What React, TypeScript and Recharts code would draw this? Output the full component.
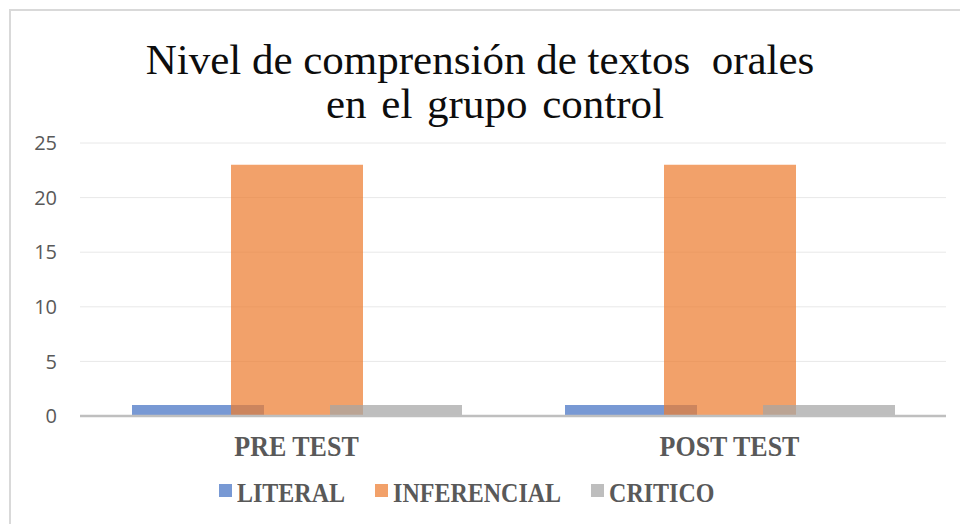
import React from "react";
import { BarChart, Bar, XAxis, YAxis, CartesianGrid, Legend } from "recharts";

const categories = ["PRE TEST", "POST TEST"];
const literal = [1, 1];
const inferencial = [23, 23];
const critico = [1, 1];
const yTicks = [0, 5, 10, 15, 20, 25];

const seriesInfo = [
  { key: "literal", name: "LITERAL", color: "#4472C4" },
  { key: "inferencial", name: "INFERENCIAL", color: "#ED7D31" },
  { key: "critico", name: "CRITICO", color: "#A5A5A5" },
];

const data = categories.map((c, i) => ({
  cat: c,
  literal: literal[i],
  inferencial: inferencial[i],
  critico: critico[i],
}));

const serif = "'Liberation Serif', 'Times New Roman', serif";
const sans = "'Open Sans', 'Noto Sans', sans-serif";
const OPACITY = 0.72;

function CatTick(props: any) {
  const { x, y, payload } = props;
  const by = y + 32;
  return (
    <text
      x={x}
      y={by}
      textAnchor="middle"
      fontFamily={serif}
      fontWeight="bold"
      fontSize={26}
      fill="#595959"
      transform={`translate(0 ${-by * 0.12}) scale(1 1.12)`}
    >
      {payload.value}
    </text>
  );
}

function LegendContent() {
  return (
    <div style={{ display: "flex", alignItems: "center" }}>
      {seriesInfo.map((s, i) => (
        <div
          key={s.key}
          style={{ display: "flex", alignItems: "center", marginRight: i < 2 ? 30 : 0 }}
        >
          <span
            style={{
              display: "inline-block",
              width: 13,
              height: 13,
              background: s.color,
              opacity: OPACITY,
              marginRight: 5,
              marginTop: -6,
            }}
          />
          <span
            style={{
              display: "inline-block",
              fontFamily: serif,
              fontWeight: "bold",
              fontSize: 24,
              color: "#595959",
              lineHeight: "28px",
              transform: "scaleY(1.15)",
            }}
          >
            {s.name}
          </span>
        </div>
      ))}
    </div>
  );
}

export default function App() {
  return (
    <div style={{ position: "absolute", left: 0, top: 0, width: 960, height: 524, background: "#fff", overflow: "hidden" }}>
      <div
        style={{
          position: "absolute",
          left: 9,
          top: 9,
          width: 960,
          height: 524,
          borderLeft: "2px solid #D9D9D9",
          borderTop: "2px solid #D9D9D9",
        }}
      />
      <div
        style={{
          position: "absolute",
          left: 0,
          top: 38,
          width: 960,
          textAlign: "center",
          fontFamily: serif,
          fontSize: 43,
          color: "#0d0d0d",
          whiteSpace: "pre",
          lineHeight: "44px",
        }}
      >
        {"Nivel de comprensión de textos  orales"}
      </div>
      <div
        style={{
          position: "absolute",
          left: 15,
          top: 82,
          width: 960,
          textAlign: "center",
          fontFamily: serif,
          fontSize: 43,
          color: "#0d0d0d",
          wordSpacing: 4,
          lineHeight: "44px",
        }}
      >
        en el grupo control
      </div>
      <div style={{ position: "absolute", left: 0, top: 0 }}>
        <BarChart
          width={960}
          height={524}
          data={data}
          margin={{ top: 143, right: 14, bottom: 0, left: 0 }}
          barSize={132}
          barGap={-33}
        >
          <CartesianGrid vertical={false} stroke="#E8E8E8" strokeWidth={1} />
          <XAxis
            dataKey="cat"
            axisLine={{ stroke: "#BFBFBF", strokeWidth: 2.5 }}
            tickLine={false}
            tick={<CatTick />}
            height={60}
            interval={0}
          />
          <YAxis
            domain={[0, 25]}
            ticks={yTicks}
            width={80}
            axisLine={false}
            tickLine={false}
            tickSize={0}
            tickMargin={23}
            tick={{ fontFamily: sans, fontSize: 20, fill: "#595959" }}
          />
          <Legend
            verticalAlign="bottom"
            height={48}
            content={<LegendContent />}
            wrapperStyle={{ left: 219, top: 479, width: "auto" }}
          />
          {seriesInfo.map((s) => (
            <Bar
              key={s.key}
              dataKey={s.key}
              name={s.name}
              fill={s.color}
              fillOpacity={OPACITY}
              isAnimationActive={false}
            />
          ))}
        </BarChart>
      </div>
    </div>
  );
}
